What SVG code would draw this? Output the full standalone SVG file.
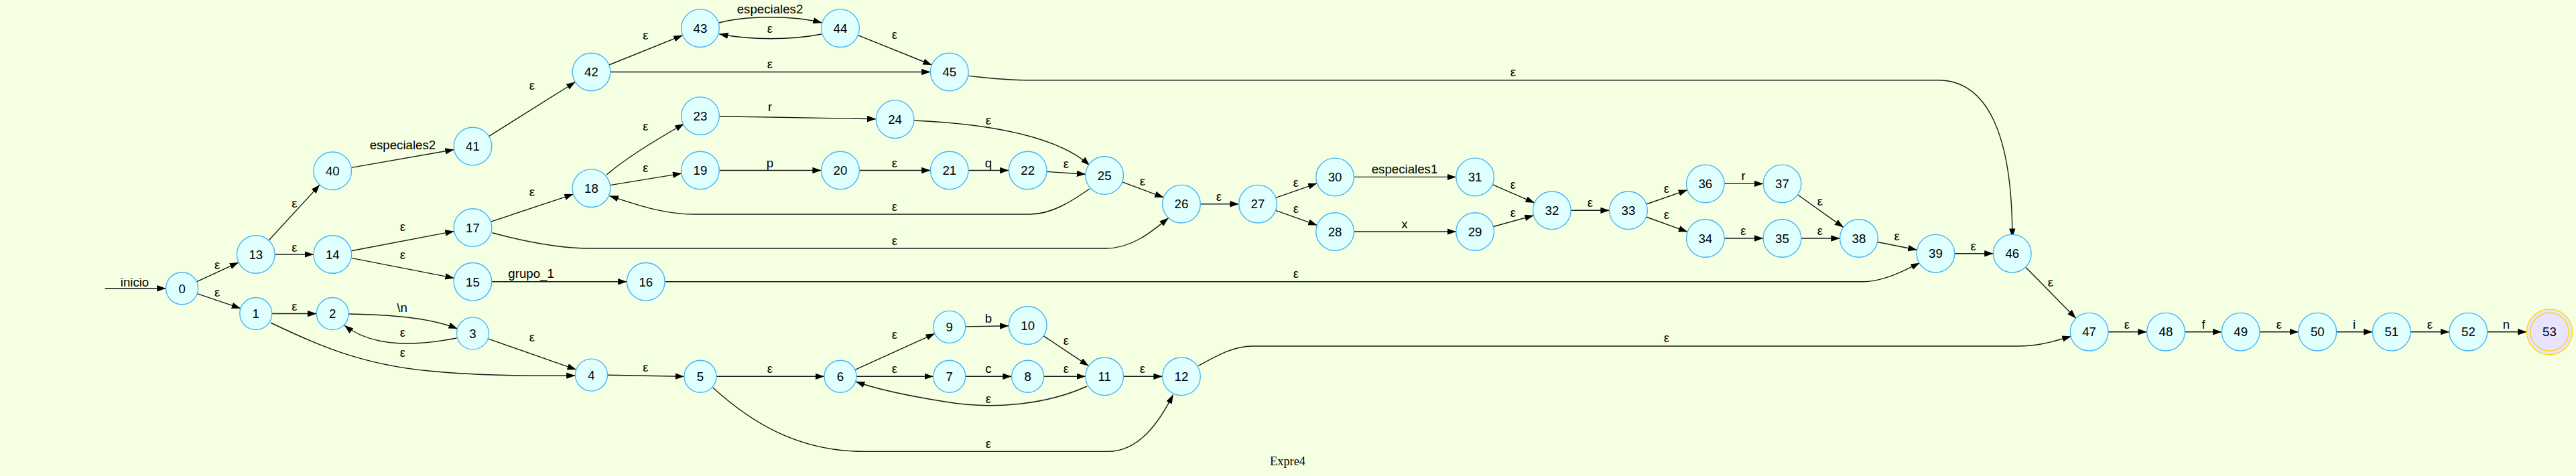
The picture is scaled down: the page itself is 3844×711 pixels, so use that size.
<svg xmlns="http://www.w3.org/2000/svg" width="3844" height="711" viewBox="0 0 3844 711">
<defs>
<marker id="ah" markerUnits="userSpaceOnUse" markerWidth="14" markerHeight="10" refX="13.3" refY="4.7" orient="auto"><path d="M0,0 L13.3,4.7 L0,9.4 z" fill="#000"/></marker>
<style>
.node circle{fill:#E0FFFF;stroke:#47B5FA;stroke-width:1.4}
.node text{font-family:"Liberation Sans",Arial,sans-serif;font-size:18.67px;text-anchor:middle;fill:#000}
#edges path{fill:none;stroke:#1a1a1a;stroke-width:1.4;marker-end:url(#ah)}
#edges text{font-family:"Liberation Sans",Arial,sans-serif;font-size:18.67px;text-anchor:middle;fill:#000}
.title{font-family:"Liberation Serif","Times New Roman",serif;font-size:18.3px;text-anchor:middle;fill:#000}
#n53 circle{fill:#E8E4FF;stroke:#FFD700}
</style>
</defs>
<rect width="3844" height="711" fill="#F5FFE1"/>
<g id="edges">
<path d="M156.7,430.8 L247.6,430.8"/><text x="201" y="427.6">inicio</text>
<path d="M293.4,420.8 L356.1,391.9"/><text x="324.2" y="401.8">ε</text>
<path d="M294.3,438.6 L359.1,460.7"/><text x="324.2" y="442.6">ε</text>
<path d="M400.9,359.2 L477.2,276.1"/><text x="439.5" y="309.8">ε</text>
<path d="M410.1,380 L468,380"/><text x="439.5" y="376">ε</text>
<path d="M405.8,468.5 L472.3,468.5"/><text x="439.5" y="464">ε</text>
<path d="M404,482 C470,514 540,545 640,554 C700,560 780,562 858.5,561"/><text x="601" y="533.3">ε</text>
<path d="M520.3,469 C580,470 640,474 682.7,491"/><text x="600" y="466">\n</text>
<path d="M681.5,505 C630,515 560,522 514,486"/><text x="601" y="502.5">ε</text>
<path d="M524.2,250.4 L677.6,223.5"/><text x="600.9" y="223">especiales2</text>
<path d="M524.1,374.7 L677.7,345.4"/><text x="601" y="345">ε</text>
<path d="M524.1,385.4 L677.7,415.4"/><text x="601" y="387.3">ε</text>
<path d="M729.5,203.6 L858.5,122.5"/><text x="794" y="134.2">ε</text>
<path d="M732.4,331.2 L855.6,290.1"/><text x="794" y="293">ε</text>
<path d="M733.8,420.8 L935.5,420.8"/><text x="792.6" y="415">grupo_1</text>
<path d="M728.1,505.9 L859.9,552.1"/><text x="794" y="509.7">ε</text>
<path d="M905.3,261 C930,240 960,220 1020.6,185"/><text x="963.4" y="194.6">ε</text>
<path d="M910.4,276.6 L1017.1,259.1"/><text x="963.4" y="256.7">ε</text>
<path d="M906.5,560.2 L1021,562.3"/><text x="963.4" y="554.7">ε</text>
<path d="M908.8,97 L1018.7,52.8"/><text x="963.4" y="58.5">ε</text>
<path d="M1073,34 C1110,24 1180,22 1226.6,34"/><text x="1149" y="20">especiales2</text>
<path d="M1226,51 C1180,60 1120,60 1073.2,50.8"/><text x="1149" y="49">ε</text>
<path d="M910.8,107.5 L1388.5,107.5"/><text x="1149" y="101.6">ε</text>
<path d="M1073.3,173.7 L1307.3,177.7"/><text x="1149" y="166">r</text>
<path d="M1073.3,254.5 L1225.7,254.5"/><text x="1149" y="249.5">p</text>
<path d="M1069,562.3 L1230,562.3"/><text x="1149" y="557.3">ε</text>
<path d="M1280.3,52.7 L1390.5,97"/><text x="1335" y="58">ε</text>
<path d="M1282.3,254.5 L1388.5,254.5"/><text x="1335" y="249.5">ε</text>
<path d="M1626,282 C1600,300 1570,320 1537,320 L1035,320 C990,320 950,306 909.5,292.5"/><text x="1335" y="314.7">ε</text>
<path d="M734.5,347.8 C780,360 830,371 880,371 L1650,371 C1690,371 1720,345 1743.5,325.6"/><text x="1335" y="365.5">ε</text>
<path d="M1275.9,552.4 L1395,498.3"/><text x="1335" y="506">ε</text>
<path d="M1278,562.3 L1392.8,562.3"/><text x="1335" y="557.3">ε</text>
<path d="M1445.1,254.5 L1505.4,254.5"/><text x="1475" y="249.5">q</text>
<path d="M1364,180 C1480,185 1580,205 1626,247"/><text x="1475" y="186.4">ε</text>
<path d="M1440.8,487.9 L1505.4,486.7"/><text x="1475" y="482">b</text>
<path d="M1440.8,562.3 L1509.7,562.3"/><text x="1475" y="557.3">c</text>
<path d="M1622,577 C1560,605 1480,612 1410,600 C1360,592 1310,582 1277,570"/><text x="1475" y="602.3">ε</text>
<path d="M1063.7,579 C1120,630 1190,674.4 1290,674.4 L1653,674.4 C1700,674.4 1730,630 1750.6,589.6"/><text x="1475" y="669.4">ε</text>
<path d="M1561.9,256.4 L1620,260.2"/><text x="1591" y="251.3">ε</text>
<path d="M1557.3,501.8 L1624.6,546.6"/><text x="1591" y="515.2">ε</text>
<path d="M1557.7,562.3 L1619.9,562.3"/><text x="1591" y="557.3">ε</text>
<path d="M1674.7,271.9 L1736.5,294.9"/><text x="1705" y="277">ε</text>
<path d="M1676.5,562.3 L1734.7,562.3"/><text x="1705" y="557.3">ε</text>
<path d="M1791.3,304.7 L1848.7,304.7"/><text x="1819" y="299.7">ε</text>
<path d="M1903.7,295.3 L1965.4,273.8"/><text x="1934" y="278.5">ε</text>
<path d="M1903.6,314.3 L1965.5,336.4"/><text x="1934" y="318">ε</text>
<path d="M992,420.8 L2780,420.8 C2810,420.8 2840,405 2864.7,392.7"/><text x="1934" y="415.4">ε</text>
<path d="M2020.4,264.4 L2172.8,264.4"/><text x="2096" y="259.4">especiales1</text>
<path d="M2020.4,346 L2172.8,346"/><text x="2096" y="341">x</text>
<path d="M2227.1,275.7 L2289.9,303"/><text x="2258" y="281.6">ε</text>
<path d="M2228.4,338.5 L2288.6,321.8"/><text x="2258" y="323.8">ε</text>
<path d="M1445,113.4 C1480,117 1500,119.7 1529,119.7 L2891.7,119.7 C2965,119.7 3003,200 3002.8,354.7"/><text x="2258" y="113.8">ε</text>
<path d="M2344.2,314.3 L2401.7,314.3"/><text x="2373" y="309.3">ε</text>
<path d="M2456.7,305 L2518.1,283.7"/><text x="2487" y="287.5">ε</text>
<path d="M2456.6,324 L2518.2,346.3"/><text x="2487" y="327">ε</text>
<path d="M1788,546.5 C1815,532 1840,517 1869,517 L3012,517 C3045,517 3070,508 3090.7,502.5"/><text x="2487" y="510.6">ε</text>
<path d="M2573.1,274.4 L2631.2,274.4"/><text x="2601.5" y="269.4">r</text>
<path d="M2573.1,356 L2631.2,356"/><text x="2601.5" y="350.6">ε</text>
<path d="M2682.5,290.8 L2750.9,339.6"/><text x="2716" y="306.6">ε</text>
<path d="M2687.8,356 L2745.6,356"/><text x="2716" y="350.6">ε</text>
<path d="M2801.7,361.5 L2860.6,373.2"/><text x="2830.7" y="358.7">ε</text>
<path d="M2916.7,378.7 L2974.5,378.7"/><text x="2944.7" y="373.7">ε</text>
<path d="M3022.6,398.9 L3097.8,475.5"/><text x="3060" y="427.6">ε</text>
<path d="M3145.9,495.7 L3203.7,495.7"/><text x="3174" y="491">ε</text>
<path d="M3260.3,495.7 L3315.4,495.7"/><text x="3288" y="490.7">f</text>
<path d="M3372,495.7 L3430,495.7"/><text x="3401" y="491">ε</text>
<path d="M3486.6,495.7 L3540.5,495.7"/><text x="3513" y="490.7">i</text>
<path d="M3597.1,495.7 L3655.1,495.7"/><text x="3626" y="491">ε</text>
<path d="M3711.7,495.7 L3770.5,495.7"/><text x="3740" y="490.7">n</text>
</g>
<g id="n0" class="node"><circle cx="271.6" cy="430.8" r="24"/><text x="271.6" y="437.5">0</text></g>
<g id="n1" class="node"><circle cx="381.8" cy="468.5" r="24"/><text x="381.8" y="475.2">1</text></g>
<g id="n2" class="node"><circle cx="496.3" cy="468.5" r="24"/><text x="496.3" y="475.2">2</text></g>
<g id="n3" class="node"><circle cx="705.5" cy="497.9" r="24"/><text x="705.5" y="504.6">3</text></g>
<g id="n4" class="node"><circle cx="882.5" cy="560.1" r="24"/><text x="882.5" y="566.8">4</text></g>
<g id="n5" class="node"><circle cx="1045" cy="562.3" r="24"/><text x="1045" y="569">5</text></g>
<g id="n6" class="node"><circle cx="1254" cy="562.3" r="24"/><text x="1254" y="569">6</text></g>
<g id="n7" class="node"><circle cx="1416.8" cy="562.3" r="24"/><text x="1416.8" y="569">7</text></g>
<g id="n8" class="node"><circle cx="1533.7" cy="562.3" r="24"/><text x="1533.7" y="569">8</text></g>
<g id="n9" class="node"><circle cx="1416.8" cy="488.4" r="24"/><text x="1416.8" y="495.1">9</text></g>
<g id="n10" class="node"><circle cx="1533.7" cy="486.1" r="28.3"/><text x="1533.7" y="492.8">10</text></g>
<g id="n11" class="node"><circle cx="1648.2" cy="562.3" r="28.3"/><text x="1648.2" y="569">11</text></g>
<g id="n12" class="node"><circle cx="1763" cy="562.3" r="28.3"/><text x="1763" y="569">12</text></g>
<g id="n13" class="node"><circle cx="381.8" cy="380" r="28.3"/><text x="381.8" y="386.7">13</text></g>
<g id="n14" class="node"><circle cx="496.3" cy="380" r="28.3"/><text x="496.3" y="386.7">14</text></g>
<g id="n15" class="node"><circle cx="705.5" cy="420.8" r="28.3"/><text x="705.5" y="427.5">15</text></g>
<g id="n16" class="node"><circle cx="963.8" cy="420.8" r="28.3"/><text x="963.8" y="427.5">16</text></g>
<g id="n17" class="node"><circle cx="705.5" cy="340.1" r="28.3"/><text x="705.5" y="346.8">17</text></g>
<g id="n18" class="node"><circle cx="882.5" cy="281.2" r="28.3"/><text x="882.5" y="287.9">18</text></g>
<g id="n19" class="node"><circle cx="1045" cy="254.5" r="28.3"/><text x="1045" y="261.2">19</text></g>
<g id="n20" class="node"><circle cx="1254" cy="254.5" r="28.3"/><text x="1254" y="261.2">20</text></g>
<g id="n21" class="node"><circle cx="1416.8" cy="254.5" r="28.3"/><text x="1416.8" y="261.2">21</text></g>
<g id="n22" class="node"><circle cx="1533.7" cy="254.5" r="28.3"/><text x="1533.7" y="261.2">22</text></g>
<g id="n23" class="node"><circle cx="1045" cy="173.2" r="28.3"/><text x="1045" y="179.9">23</text></g>
<g id="n24" class="node"><circle cx="1335.6" cy="178.2" r="28.3"/><text x="1335.6" y="184.9">24</text></g>
<g id="n25" class="node"><circle cx="1648.2" cy="262.1" r="28.3"/><text x="1648.2" y="268.8">25</text></g>
<g id="n26" class="node"><circle cx="1763" cy="304.7" r="28.3"/><text x="1763" y="311.4">26</text></g>
<g id="n27" class="node"><circle cx="1877" cy="304.7" r="28.3"/><text x="1877" y="311.4">27</text></g>
<g id="n28" class="node"><circle cx="1992.1" cy="346" r="28.3"/><text x="1992.1" y="352.7">28</text></g>
<g id="n29" class="node"><circle cx="2201.1" cy="346" r="28.3"/><text x="2201.1" y="352.7">29</text></g>
<g id="n30" class="node"><circle cx="1992.1" cy="264.4" r="28.3"/><text x="1992.1" y="271.1">30</text></g>
<g id="n31" class="node"><circle cx="2201.1" cy="264.4" r="28.3"/><text x="2201.1" y="271.1">31</text></g>
<g id="n32" class="node"><circle cx="2315.9" cy="314.3" r="28.3"/><text x="2315.9" y="321">32</text></g>
<g id="n33" class="node"><circle cx="2430" cy="314.3" r="28.3"/><text x="2430" y="321">33</text></g>
<g id="n34" class="node"><circle cx="2544.8" cy="356" r="28.3"/><text x="2544.8" y="362.7">34</text></g>
<g id="n35" class="node"><circle cx="2659.5" cy="356" r="28.3"/><text x="2659.5" y="362.7">35</text></g>
<g id="n36" class="node"><circle cx="2544.8" cy="274.4" r="28.3"/><text x="2544.8" y="281.1">36</text></g>
<g id="n37" class="node"><circle cx="2659.5" cy="274.4" r="28.3"/><text x="2659.5" y="281.1">37</text></g>
<g id="n38" class="node"><circle cx="2773.9" cy="356" r="28.3"/><text x="2773.9" y="362.7">38</text></g>
<g id="n39" class="node"><circle cx="2888.4" cy="378.7" r="28.3"/><text x="2888.4" y="385.4">39</text></g>
<g id="n40" class="node"><circle cx="496.3" cy="255.3" r="28.3"/><text x="496.3" y="262">40</text></g>
<g id="n41" class="node"><circle cx="705.5" cy="218.6" r="28.3"/><text x="705.5" y="225.3">41</text></g>
<g id="n42" class="node"><circle cx="882.5" cy="107.5" r="28.3"/><text x="882.5" y="114.2">42</text></g>
<g id="n43" class="node"><circle cx="1045" cy="42.2" r="28.3"/><text x="1045" y="48.9">43</text></g>
<g id="n44" class="node"><circle cx="1254" cy="42.2" r="28.3"/><text x="1254" y="48.9">44</text></g>
<g id="n45" class="node"><circle cx="1416.8" cy="107.5" r="28.3"/><text x="1416.8" y="114.2">45</text></g>
<g id="n46" class="node"><circle cx="3002.8" cy="378.7" r="28.3"/><text x="3002.8" y="385.4">46</text></g>
<g id="n47" class="node"><circle cx="3117.6" cy="495.7" r="28.3"/><text x="3117.6" y="502.4">47</text></g>
<g id="n48" class="node"><circle cx="3232" cy="495.7" r="28.3"/><text x="3232" y="502.4">48</text></g>
<g id="n49" class="node"><circle cx="3343.7" cy="495.7" r="28.3"/><text x="3343.7" y="502.4">49</text></g>
<g id="n50" class="node"><circle cx="3458.3" cy="495.7" r="28.3"/><text x="3458.3" y="502.4">50</text></g>
<g id="n51" class="node"><circle cx="3568.8" cy="495.7" r="28.3"/><text x="3568.8" y="502.4">51</text></g>
<g id="n52" class="node"><circle cx="3683.4" cy="495.7" r="28.3"/><text x="3683.4" y="502.4">52</text></g>
<g id="n53" class="node"><circle cx="3804.5" cy="495.7" r="34"/><circle cx="3804.5" cy="495.7" r="28.5"/><text x="3804.5" y="502.4">53</text></g>
<text class="title" x="1921.5" y="695">Expre4</text>
</svg>
